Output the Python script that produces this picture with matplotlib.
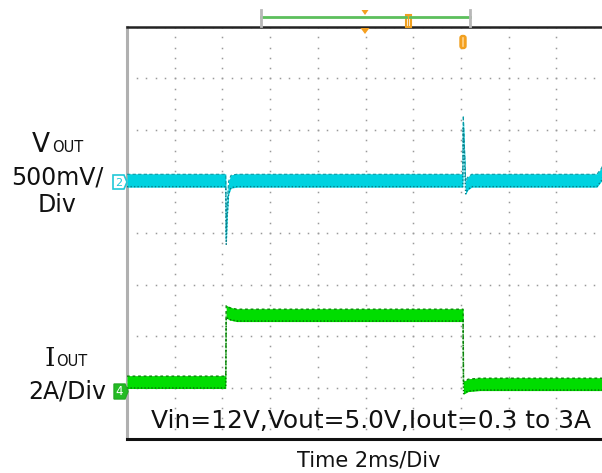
import matplotlib
matplotlib.use("Agg")
import matplotlib.pyplot as plt
import numpy as np
from matplotlib.patches import Rectangle, FancyBboxPatch, Polygon

# data
time_ms = [0.0, 4.14, 4.16, 4.20, 4.26, 4.36, 4.6, 14.08, 14.10, 14.20, 14.28, 14.45, 19.70, 19.90, 20.0]
vout_v = [5.0, 5.0, 4.44, 4.70, 4.93, 4.99, 5.0, 5.0, 5.57, 4.93, 4.97, 5.0, 5.0, 5.06, 5.13]

itime_ms = [0.0, 4.14, 4.16, 4.30, 4.60, 14.09, 14.11, 14.30, 14.80, 20.0]
iout_a = [0.38, 0.38, 3.12, 3.04, 2.98, 2.98, 0.16, 0.26, 0.30, 0.30]

# channel scales (V/div, A/div) and ground position in div
v_div, v_ref, v_pos = 0.5, 5.0, 5.0
i_div, i_pos = 2.0, 0.91

W, H = 602, 473
fig = plt.figure(figsize=(W/100, H/100), dpi=100)
fig.patch.set_facecolor("white")

# plot area (pixels): x 127..604, y 27..439
ax = fig.add_axes([127/W, (H-439)/H, 477/W, 412/H])
ax.set_xlim(0, 20)
ax.set_ylim(0, 8)
ax.set_axis_off()

# graticule dots
for k in range(11):
    yy = np.arange(0, 8.01, 0.2)
    ax.plot(np.full_like(yy, 2*k), yy, ls="none", marker="s", ms=1.1, color="#9a9a9a", mec="none")
for k in range(9):
    xx = np.arange(0, 20.01, 0.4)
    ax.plot(xx, np.full_like(xx, k), ls="none", marker="s", ms=1.1, color="#9a9a9a", mec="none")

# borders
ax.plot([0, 0], [0, 8], color="#b0b0b0", lw=2.2, clip_on=False)
ax.plot([0, 20.1], [8, 8], color="#222222", lw=1.8, clip_on=False)
ax.plot([0, 20.1], [0, 0], color="#111111", lw=2.2, clip_on=False)

# Vout trace (cyan)
vy = v_pos + (np.array(vout_v) - v_ref) / v_div
ax.plot(time_ms, vy, color="#9feef5", lw=1.2, zorder=3)
ax.fill_between(time_ms, vy - 0.11, vy + 0.15, color="#00d2e0", lw=0, zorder=4)
ax.plot(time_ms, vy + 0.14, color="#0a9aa5", lw=0.8, ls=(0, (3, 2)), zorder=5)
ax.plot(time_ms, vy - 0.10, color="#087e88", lw=1.0, ls=(0, (1, 1.5)), zorder=5)

# Iout trace (green)
iy = i_pos + np.array(iout_a) / i_div
ax.plot(itime_ms, iy, color="#b5ecb5", lw=1.2, zorder=3)
ax.fill_between(itime_ms, iy - 0.12, iy + 0.13, color="#00dd00", lw=0, zorder=4)
ax.plot(itime_ms, iy + 0.12, color="#0a8a0a", lw=1.0, ls=(0, (2, 2)), zorder=5)
ax.plot(itime_ms, iy - 0.11, color="#067006", lw=1.0, ls=(0, (1, 1.5)), zorder=5)

ax.text(10.23, 0.21, "Vin=12V,Vout=5.0V,Iout=0.3 to 3A", fontsize=17.9,
        ha="center", va="baseline", color="#111111", zorder=6)

# overlay in pixel coords for labels and markers
ov = fig.add_axes([0, 0, 1, 1])
ov.set_xlim(0, W)
ov.set_ylim(H, 0)
ov.set_axis_off()

ov.text(32, 152, "V", fontsize=19, ha="left", va="baseline", color="#111111")
ov.text(52, 152, "OUT", fontsize=10.5, ha="left", va="baseline", color="#111111")
ov.text(57, 184, "500mV/", fontsize=17, ha="center", va="baseline", color="#111111")
ov.text(57, 212, "Div", fontsize=17, ha="center", va="baseline", color="#111111")

ov.text(45, 366, "I", fontsize=19, ha="left", va="baseline", color="#111111", family="DejaVu Serif")
ov.text(56, 366, "OUT", fontsize=10.5, ha="left", va="baseline", color="#111111")
ov.text(67, 398, "2A/Div", fontsize=17, ha="center", va="baseline", color="#111111")

ov.text(369, 466, "Time 2ms/Div", fontsize=15, ha="center", va="baseline", color="#111111")

# channel markers
ov.add_patch(Polygon([[113, 175], [124, 175], [127, 182], [124, 189], [113, 189]],
                     closed=True, fc="white", ec="#20c8d8", lw=1.2))
ov.text(118.5, 182.5, "2", fontsize=8, ha="center", va="center", color="#20c8d8")
ov.add_patch(Polygon([[114, 384], [125, 384], [128, 391.5], [125, 399], [114, 399]],
                     closed=True, fc="#22bb22", ec="#22aa22", lw=1))
ov.text(119.5, 391.5, "4", fontsize=8.5, ha="center", va="center", color="white")

# top trigger/time markers
ov.plot([261, 470], [17, 17], color="#5cbf5c", lw=2)
ov.plot([261, 261], [10, 26], color="#b8b8b8", lw=2)
ov.plot([470, 470], [10, 26], color="#b8b8b8", lw=2)
ov.add_patch(Polygon([[361.5, 10], [368.5, 10], [365, 15]], closed=True, fc="#f5a020", ec="none"))
ov.add_patch(Polygon([[360.5, 28], [369.5, 28], [365, 34]], closed=True, fc="#f5a020", ec="none"))
ov.add_patch(Rectangle((405.5, 15), 5, 12, fc="white", ec="#f0a020", lw=1.5))
ov.plot([408, 408], [16, 26], color="#f0a020", lw=1)
ov.add_patch(FancyBboxPatch((460.5, 36), 5, 12, boxstyle="round,pad=0.5,rounding_size=2.5",
                            fc="#f5a020", ec="#f0a020", lw=1))
ov.plot([463, 463], [38, 46], color="#ffd38a", lw=1.2)

fig.savefig("out.png", dpi=100)
